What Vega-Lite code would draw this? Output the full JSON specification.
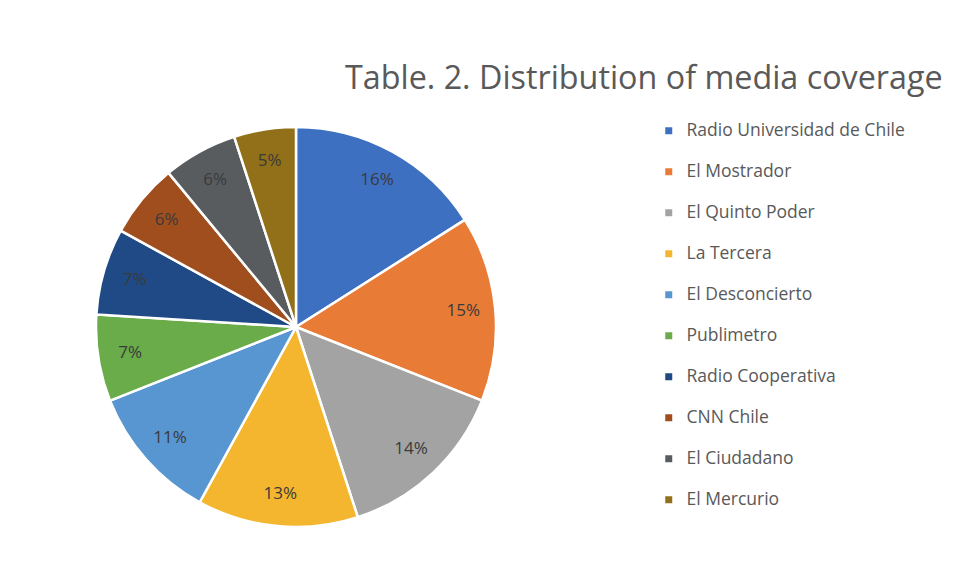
{
  "$schema": "https://vega.github.io/schema/vega-lite/v6.json",
  "width": 592,
  "height": 510,
  "autosize": {"type": "none"},
  "padding": {"left": 0, "top": 72, "right": 368, "bottom": 0},
  "background": "white",
  "title": {
    "text": "Table. 2. Distribution of media coverage",
    "anchor": "start",
    "dx": 345,
    "dy": 27,
    "font": "Open Sans",
    "fontSize": 32.3,
    "fontWeight": "normal",
    "color": "#595959"
  },
  "data": {
    "values": [
      {"medio": "Radio Universidad de Chile", "valor": 16, "etiqueta": "16%", "rank": 1},
      {"medio": "El Mostrador", "valor": 15, "etiqueta": "15%", "rank": 2},
      {"medio": "El Quinto Poder", "valor": 14, "etiqueta": "14%", "rank": 3},
      {"medio": "La Tercera", "valor": 13, "etiqueta": "13%", "rank": 4},
      {"medio": "El Desconcierto", "valor": 11, "etiqueta": "11%", "rank": 5},
      {"medio": "Publimetro", "valor": 7, "etiqueta": "7%", "rank": 6},
      {"medio": "Radio Cooperativa", "valor": 7, "etiqueta": "7%", "rank": 7},
      {"medio": "CNN Chile", "valor": 6, "etiqueta": "6%", "rank": 8},
      {"medio": "El Ciudadano", "valor": 6, "etiqueta": "6%", "rank": 9},
      {"medio": "El Mercurio", "valor": 5, "etiqueta": "5%", "rank": 10}
    ]
  },
  "encoding": {
    "theta": {"field": "valor", "type": "quantitative", "stack": true},
    "order": {"field": "rank", "type": "quantitative"},
    "color": {
      "field": "medio",
      "type": "nominal",
      "scale": {
        "domain": ["Radio Universidad de Chile", "El Mostrador", "El Quinto Poder", "La Tercera", "El Desconcierto", "Publimetro", "Radio Cooperativa", "CNN Chile", "El Ciudadano", "El Mercurio"],
        "range": ["#3E70C2", "#E87C37", "#A3A3A3", "#F4B62F", "#5896D2", "#6AAB4A", "#1F4A86", "#A04E1E", "#595C5F", "#917019"]
      },
      "legend": {
        "title": null,
        "orient": "none",
        "legendX": 660,
        "legendY": 50,
        "symbolType": "square",
        "symbolSize": 49,
        "symbolStrokeWidth": 0,
        "labelFont": "Open Sans",
        "labelFontSize": 17.5,
        "labelColor": "#595959",
        "labelOffset": 9,
        "labelLimit": 400,
        "rowPadding": 22
      }
    }
  },
  "layer": [
    {
      "mark": {"type": "arc", "outerRadius": 200, "stroke": "white", "strokeWidth": 2.5}
    },
    {
      "mark": {"type": "text", "radius": 168, "font": "Open Sans", "fontSize": 17},
      "encoding": {
        "text": {"field": "etiqueta", "type": "nominal"},
        "color": {"value": "#3A3A3A"}
      }
    }
  ]
}
